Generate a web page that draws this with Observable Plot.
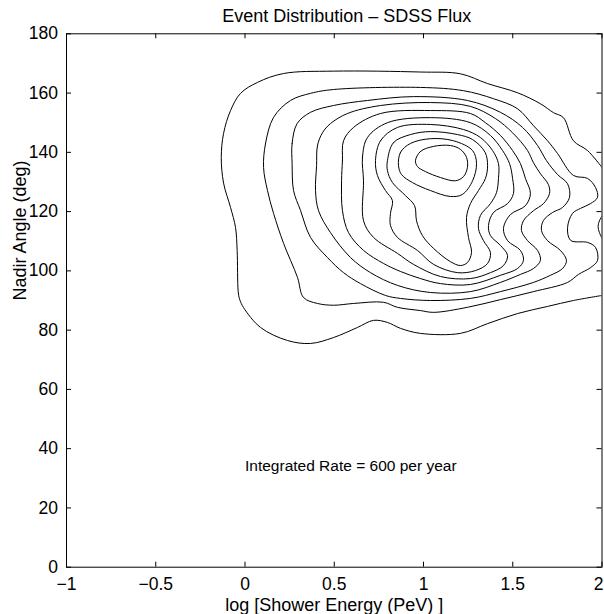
<!DOCTYPE html>
<html><head><meta charset="utf-8">
<script src="https://cdn.jsdelivr.net/npm/d3@7"></script>
<script src="https://cdn.jsdelivr.net/npm/@observablehq/plot@0.6"></script>
<style>
html,body{margin:0;padding:0;background:#fff;}
</style>
</head><body><div id="chart"></div>
<script>
const title = "Event Distribution – SDSS Flux";
const xLabel = "log [Shower Energy (PeV) ]";
const yLabel = "Nadir Angle (deg)";
const note = "Integrated Rate = 600 per year";
const notePosition = [0, 34];
const xDomain = [-1, 2];
const yDomain = [0, 180];
const xTicks = [-1, -0.5, 0, 0.5, 1, 1.5, 2];
const xTickLabels = ["−1", "−0.5", "0", "0.5", "1", "1.5", "2"];
const yTicks = [0, 20, 40, 60, 80, 100, 120, 140, 160, 180];
const yTickLabels = ["0", "20", "40", "60", "80", "100", "120", "140", "160", "180"];

// Contour lines: [log energy, nadir angle]
// level 1 leaves the plot through the right edge (open)
const level1 = [[2.0,134.9],[1.919,140.6],[1.840,143.9],[1.784,151.7],[1.728,153.4],[1.655,156.4],[1.527,160.1],[1.359,163.2],[1.207,166.5],[0.983,167.1],[0.496,167.4],[0.216,166.6],[0.070,163.6],[-0.025,159.9],[-0.081,154.1],[-0.120,146.4],[-0.133,138.3],[-0.120,129.6],[-0.081,121.4],[-0.053,114.6],[-0.044,106.9],[-0.038,93.0],[-0.030,90.4],[-0.008,87.6],[0.087,80.9],[0.238,76.5],[0.367,75.5],[0.496,77.5],[0.630,80.9],[0.720,83.3],[0.798,82.6],[0.871,80.6],[0.983,78.9],[1.207,78.9],[1.359,82.2],[1.527,85.6],[1.695,88.0],[1.840,90.0],[2.0,91.7]];
const level2 = [[0.104,134.9],[0.115,143.0],[0.160,151.8],[0.255,157.5],[0.367,159.9],[0.496,161.2],[0.983,161.9],[1.224,160.8],[1.392,158.1],[1.527,154.7],[1.616,149.0],[1.695,143.9],[1.751,139.6],[1.840,132.2],[1.919,131.2],[1.964,128.1],[1.975,124.8],[1.936,122.7],[1.880,121.1],[1.835,119.4],[1.807,114.6],[1.824,110.3],[1.919,109.6],[1.964,107.9],[1.975,103.5],[1.936,101.1],[1.868,98.8],[1.807,96.1],[1.616,93.0],[1.431,90.3],[1.246,87.7],[1.056,86.0],[0.983,86.6],[0.854,87.7],[0.776,89.4],[0.608,89.0],[0.496,88.4],[0.406,89.0],[0.328,91.0],[0.294,97.8],[0.216,109.3],[0.160,119.4],[0.126,127.1]];
// small piece of level 2 touching the right edge (open)
const level2Edge = [[2.0,118.5],[1.985,116.8],[1.978,115.0],[1.985,113.0],[2.0,111.0]];
const level3 = [[0.264,136.2],[0.264,143.0],[0.292,149.7],[0.367,153.5],[0.496,155.8],[0.686,157.5],[0.944,158.8],[1.246,157.5],[1.431,153.5],[1.555,148.4],[1.639,142.3],[1.689,137.2],[1.751,132.5],[1.807,129.4],[1.818,124.8],[1.779,121.4],[1.723,119.7],[1.672,117.0],[1.661,113.6],[1.695,110.2],[1.767,106.9],[1.801,103.5],[1.779,100.8],[1.711,98.5],[1.616,96.1],[1.431,93.0],[1.263,90.7],[1.039,90.0],[0.871,90.7],[0.787,91.7],[0.647,95.7],[0.552,99.4],[0.462,104.5],[0.367,111.3],[0.311,120.4],[0.272,127.1]];
const level4 = [[0.401,135.5],[0.406,142.3],[0.434,146.6],[0.479,149.7],[0.574,153.1],[0.759,155.8],[1.039,156.8],[1.263,155.5],[1.403,151.4],[1.499,146.6],[1.583,140.6],[1.616,136.5],[1.655,132.8],[1.700,129.1],[1.706,126.1],[1.672,122.7],[1.616,120.3],[1.560,116.9],[1.549,113.6],[1.583,110.2],[1.639,106.9],[1.655,103.5],[1.616,100.8],[1.543,98.8],[1.431,96.1],[1.263,93.0],[1.039,92.7],[0.854,95.1],[0.703,99.4],[0.591,104.5],[0.479,112.9],[0.412,120.3],[0.395,127.1]];
const level5 = [[0.541,130.4],[0.546,137.2],[0.552,143.9],[0.608,148.4],[0.759,153.1],[1.039,154.1],[1.263,153.1],[1.347,150.0],[1.431,145.7],[1.499,140.6],[1.543,136.2],[1.571,131.2],[1.599,126.1],[1.571,122.0],[1.487,119.0],[1.448,114.3],[1.471,110.2],[1.543,106.9],[1.560,103.5],[1.527,100.8],[1.431,98.5],[1.263,95.4],[1.095,95.7],[0.983,97.4],[0.871,99.8],[0.776,102.5],[0.664,106.9],[0.580,112.9],[0.546,120.3]];
const level6 = [[0.664,130.4],[0.658,138.3],[0.686,145.0],[0.798,150.0],[1.039,151.7],[1.263,150.0],[1.375,145.7],[1.443,140.6],[1.482,136.2],[1.499,131.2],[1.504,126.1],[1.471,122.7],[1.392,119.7],[1.364,115.3],[1.375,111.9],[1.431,108.6],[1.471,105.2],[1.448,101.8],[1.375,99.4],[1.263,97.4],[1.095,98.1],[0.944,102.2],[0.854,105.9],[0.720,111.3],[0.664,116.9]];
const level7 = [[0.731,137.2],[0.759,143.9],[0.854,148.4],[1.039,149.4],[1.224,147.7],[1.319,145.0],[1.387,140.6],[1.420,136.2],[1.420,131.2],[1.409,126.4],[1.375,122.7],[1.319,118.7],[1.308,114.3],[1.336,110.2],[1.375,106.2],[1.359,102.5],[1.291,100.1],[1.190,99.4],[1.056,102.2],[0.966,106.9],[0.854,111.3],[0.815,115.3],[0.815,119.4],[0.826,123.7],[0.787,127.1],[0.742,132.2]];
const level8 = [[0.798,137.2],[0.832,143.3],[0.927,146.0],[1.039,147.0],[1.190,146.0],[1.275,144.3],[1.345,140.0],[1.359,135.5],[1.347,131.2],[1.308,127.1],[1.263,122.7],[1.241,118.0],[1.252,111.3],[1.269,106.2],[1.246,102.8],[1.207,101.8],[1.151,103.1],[1.056,107.6],[0.994,111.9],[0.961,116.9],[0.950,122.0],[0.899,125.4],[0.826,129.8],[0.798,133.8]];
const level9 = [[0.860,135.5],[0.871,140.0],[0.927,143.0],[1.039,144.6],[1.168,143.9],[1.275,140.6],[1.297,136.2],[1.275,130.4],[1.218,125.8],[1.151,125.1],[1.039,127.1],[0.938,129.8],[0.877,132.5]];
const level10 = [[0.955,137.2],[0.983,140.3],[1.056,142.0],[1.151,142.3],[1.207,141.0],[1.241,138.3],[1.246,134.9],[1.224,131.8],[1.179,130.4],[1.095,131.5],[1.011,133.5],[0.966,135.2]];

const openLines = [["1", level1], ["2e", level2Edge]];
const closedLines = [["2", level2], ["3", level3], ["4", level4], ["5", level5], ["6", level6], ["7", level7], ["8", level8], ["9", level9], ["10", level10]];
const toRows = (list) => list.flatMap(([id, pts]) => pts.map(([x, y]) => ({id, x, y})));
const openRows = toRows(openLines);
const closedRows = toRows(closedLines);

const W = 604, H = 614;
const mL = 66, mR = 2.5, mT = 33.3, mB = 47.3;
const fW = W - mL - mR, fH = H - mT - mB;
const tickLen = 5;
const font = "'Liberation Sans', Arial, Helvetica, sans-serif";
const innerXTicks = xTicks.slice(0, -1);
const lastXTick = xTicks.slice(-1);

const chart = Plot.plot({
  width: W, height: H,
  marginLeft: mL, marginRight: mR, marginTop: mT, marginBottom: mB,
  style: {fontFamily: font, fontSize: "17.5px", background: "white", color: "black"},
  x: {domain: xDomain},
  y: {domain: yDomain},
  marks: [
    Plot.line(closedRows, {x: "x", y: "y", z: "id", curve: "catmull-rom-closed", stroke: "black", strokeWidth: 1, clip: true}),
    Plot.line(openRows, {x: "x", y: "y", z: "id", curve: "catmull-rom", stroke: "black", strokeWidth: 1, clip: true}),
    Plot.tickX(xTicks, {x: d => d, insetTop: fH - tickLen, stroke: "black"}),
    Plot.tickX(xTicks, {x: d => d, insetBottom: fH - tickLen, stroke: "black"}),
    Plot.tickY(yTicks, {y: d => d, insetRight: fW - tickLen, stroke: "black"}),
    Plot.tickY(yTicks, {y: d => d, insetLeft: fW - tickLen, stroke: "black"}),
    Plot.frame({stroke: "black"}),
    Plot.axisX({ticks: innerXTicks, anchor: "bottom", tickSize: 0, tickPadding: 10, label: null,
      tickFormat: d => xTickLabels[xTicks.indexOf(d)]}),
    Plot.axisX({ticks: lastXTick, anchor: "bottom", tickSize: 0, tickPadding: 10, label: null, dx: -3.5,
      tickFormat: d => xTickLabels[xTicks.indexOf(d)]}),
    Plot.axisY({ticks: yTicks, anchor: "left", tickSize: 0, tickPadding: 8.5, label: null,
      tickFormat: d => yTickLabels[yTicks.indexOf(d)]}),
    Plot.text([title], {text: d => d, frameAnchor: "top", dx: 12.5, dy: -12.3, lineAnchor: "bottom", fontSize: 18}),
    Plot.text([xLabel], {text: d => d, frameAnchor: "bottom", dy: 43.3, lineAnchor: "bottom", fontSize: 18}),
    Plot.text([yLabel], {text: d => d, frameAnchor: "left", dx: -41, rotate: -90, lineAnchor: "bottom", fontSize: 18}),
    Plot.text([note], {text: d => d, x: () => notePosition[0], y: () => notePosition[1], textAnchor: "start", lineAnchor: "middle", fontSize: 15.5})
  ]
});
document.getElementById("chart").appendChild(chart);
</script>
</body></html>
